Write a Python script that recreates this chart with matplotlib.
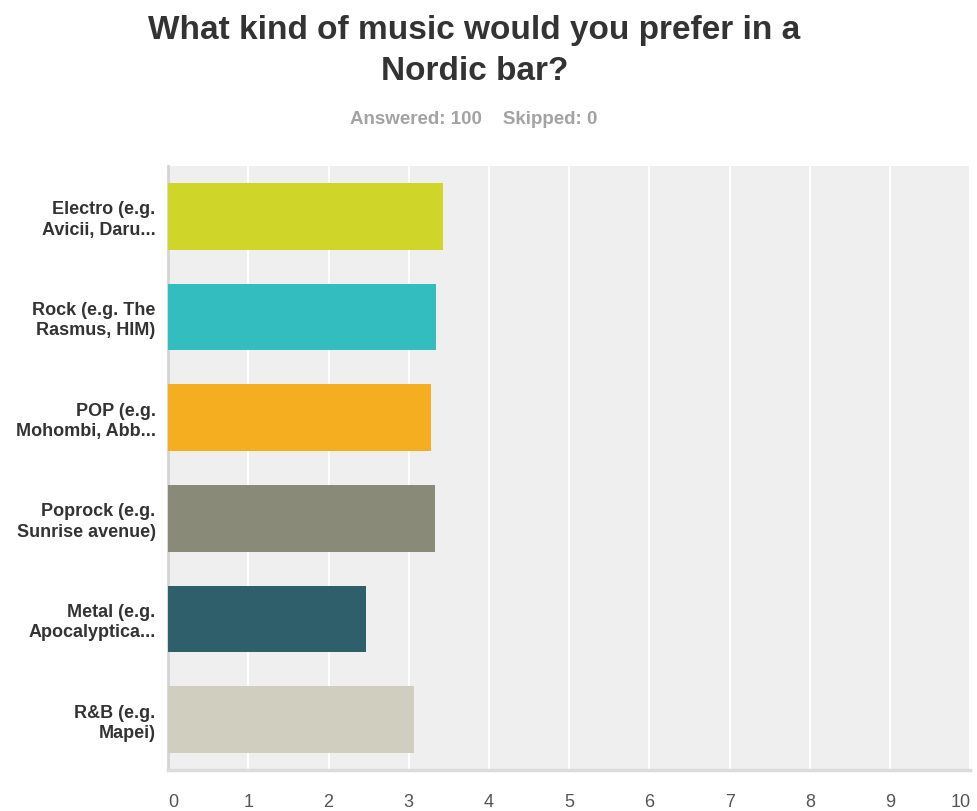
import matplotlib.pyplot as plt

# survey answers (average score per music style)
categories = ['Electro (e.g.\nAvicii, Daru...', 'Rock (e.g. The\nRasmus, HIM)',
              'POP (e.g.\nMohombi, Abb...', 'Poprock (e.g.\nSunrise avenue)',
              'Metal (e.g.\nApocalyptica...', 'R&B (e.g.\nMapei)']
scores = [3.43, 3.34, 3.28, 3.33, 2.47, 3.07]
bar_colors = ['#D0D52A', '#33BDBF', '#F6AE21', '#898A78', '#2F5F6B', '#CFCEBF']
x_ticks = list(range(0, 11))

plt.rcParams['font.family'] = ['Liberation Sans', 'DejaVu Sans']

fig = plt.figure(figsize=(9.78, 8.11), dpi=100)
ax = fig.add_axes([0.1718, 0.0506, 0.8205, 0.7447])

ypos = list(range(len(categories)))
ax.barh(ypos, scores, height=0.665, color=bar_colors, edgecolor='none', zorder=3)

ax.set_facecolor('#EFEFEF')
ax.set_xlim(0, 10)
ax.set_ylim(len(categories) - 0.5, -0.5)
ax.set_xticks(x_ticks)
ax.set_xticklabels([str(t) for t in x_ticks])
ax.set_yticks(ypos)
ax.set_yticklabels(categories, fontsize=13, fontweight='bold', color='#333333', linespacing=1.25)
ax.tick_params(axis='x', length=0, pad=17, labelsize=13, labelcolor='#555555')
ax.tick_params(axis='y', length=0, pad=9)
ax.grid(axis='x', color='white', linewidth=1.5, zorder=1)
ax.set_axisbelow(True)

# keep the end labels inside the plot width
xlabels = ax.get_xticklabels()
xlabels[0].set_horizontalalignment('left')
xlabels[-1].set_horizontalalignment('right')

for side in ['top', 'right']:
    ax.spines[side].set_visible(False)
ax.spines['left'].set_color('#D4D4D4')
ax.spines['left'].set_linewidth(2)
ax.spines['bottom'].set_color('#DCDCDC')
ax.spines['bottom'].set_linewidth(2.5)

fig.text(0.485, 1 - 51 / 811, 'What kind of music would you prefer in a\nNordic bar?',
         ha='center', va='center', fontsize=24, fontweight='bold', color='#333333',
         linespacing=1.4)
fig.text(0.4845, 1 - 120 / 811, 'Answered: 100    Skipped: 0',
         ha='center', va='center', fontsize=13.5, fontweight='bold', color='#A3A3A3')

plt.savefig('out.png', dpi=100)
